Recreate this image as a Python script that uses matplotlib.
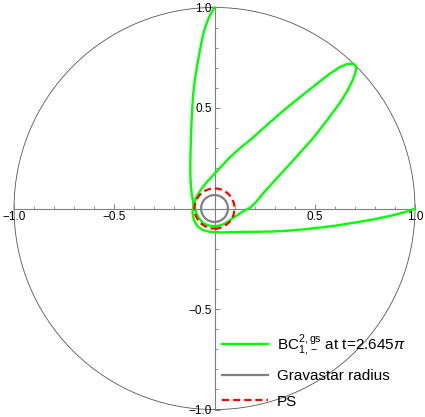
import matplotlib
matplotlib.use("Agg")
import matplotlib.pyplot as plt
from matplotlib.patches import Circle
from matplotlib.lines import Line2D
from matplotlib.ticker import MultipleLocator

plt.rcParams['font.family'] = ['Liberation Sans', 'DejaVu Sans']
plt.rcParams['mathtext.fontset'] = 'custom'
plt.rcParams['mathtext.rm'] = 'Liberation Sans'
plt.rcParams['mathtext.it'] = 'Liberation Sans:italic'

# green curve (x, y)
curve_x = [0.000, -0.015, -0.030, -0.045, -0.058, -0.070, -0.085, -0.098, -0.106, -0.111,
           -0.115, -0.118, -0.120, -0.121, -0.119, -0.114, -0.106, -0.095, -0.080, -0.060,
           -0.035, -0.008, 0.020, 0.048, 0.075, 0.100, 0.125, 0.150, 0.177, 0.210,
           0.243, 0.285, 0.326, 0.368, 0.409, 0.447, 0.484, 0.530, 0.575, 0.624,
           0.660, 0.688, 0.703, 0.707, 0.700, 0.683, 0.660, 0.625, 0.575, 0.500,
           0.425, 0.350, 0.276, 0.220, 0.177, 0.127, 0.077, 0.035, 0.000, -0.035,
           -0.065, -0.090, -0.104, -0.110, -0.103, -0.085, -0.060, -0.030, 0.000, 0.040,
           0.080, 0.127, 0.200, 0.300, 0.400, 0.500, 0.600, 0.700, 0.800, 0.880,
           0.940, 0.975, 1.000]
curve_y = [1.000, 0.975, 0.945, 0.905, 0.860, 0.800, 0.720, 0.640, 0.570, 0.500,
           0.420, 0.340, 0.260, 0.190, 0.130, 0.075, 0.030, -0.010, -0.045, -0.070,
           -0.083, -0.088, -0.086, -0.077, -0.060, -0.042, -0.025, -0.010, 0.003, 0.035,
           0.076, 0.122, 0.167, 0.212, 0.258, 0.300, 0.341, 0.398, 0.457, 0.523,
           0.580, 0.635, 0.675, 0.700, 0.715, 0.720, 0.718, 0.703, 0.670, 0.612,
           0.552, 0.492, 0.428, 0.378, 0.340, 0.300, 0.255, 0.210, 0.172, 0.135,
           0.098, 0.058, 0.020, -0.020, -0.058, -0.088, -0.106, -0.115, -0.118, -0.119,
           -0.118, -0.117, -0.116, -0.114, -0.108, -0.098, -0.086, -0.070, -0.053, -0.036,
           -0.021, -0.010, 0.000]

outer_radius = 1.0
gravastar_radius = 0.067
ps_radius = 0.10

tick_vals = [-1.0, -0.5, 0.5, 1.0]
tick_labels = ['\u22121.0', '\u22120.5', '0.5', '1.0']

green = '#00ff00'
gray = '#808080'
red = '#ff0000'

fig = plt.figure(figsize=(4.25, 4.17), dpi=100)
ax = fig.add_axes([0, 0, 1, 1])
ax.set_xlim(-1.070, 1.050)
ax.set_ylim(-1.037, 1.037)

ax.add_patch(Circle((0, 0), outer_radius, fill=False, ec='#555555', lw=0.6, zorder=1))
ax.plot(curve_x, curve_y, color=green, lw=1.7, zorder=3, solid_joinstyle='round')
ax.add_patch(Circle((0, 0), gravastar_radius, fill=False, ec=gray, lw=1.6, zorder=4))
ax.add_patch(Circle((0, 0), ps_radius, fill=False, ec=red, lw=1.6, ls=(0, (3.2, 1.8)), zorder=5))

for s in ['top', 'right']:
    ax.spines[s].set_visible(False)
for s in ['left', 'bottom']:
    ax.spines[s].set_position('zero')
    ax.spines[s].set_bounds(-1, 1)
    ax.spines[s].set_color('#808080')
    ax.spines[s].set_linewidth(0.8)
    ax.spines[s].set_zorder(2)

ax.set_xticks(tick_vals)
ax.set_xticklabels(tick_labels)
ax.set_yticks(tick_vals)
ax.set_yticklabels(tick_labels)
ax.xaxis.set_minor_locator(MultipleLocator(0.1))
ax.yaxis.set_minor_locator(MultipleLocator(0.1))
ax.tick_params(which='major', direction='in', length=3.4, width=0.7, color='#808080',
               labelsize=8.5, pad=2)
ax.tick_params(which='minor', direction='in', length=1.9, width=0.6, color='#808080')

handles = [Line2D([], [], color=green, lw=1.7),
           Line2D([], [], color=gray, lw=1.6),
           Line2D([], [], color=red, lw=1.6, ls=(0, (3.2, 1.8)))]
labels = [r'BC$_{1,-}^{2,\mathrm{gs}}$ at t=2.645$\pi$', 'Gravastar radius', 'PS']
fig.legend(handles, labels, loc='upper left', bbox_to_anchor=(0.522, 0.203),
           frameon=False, fontsize=11, handlelength=3.0, handletextpad=0.6,
           labelspacing=0.74, borderpad=0, borderaxespad=0)

fig.savefig('out.png', dpi=100)
